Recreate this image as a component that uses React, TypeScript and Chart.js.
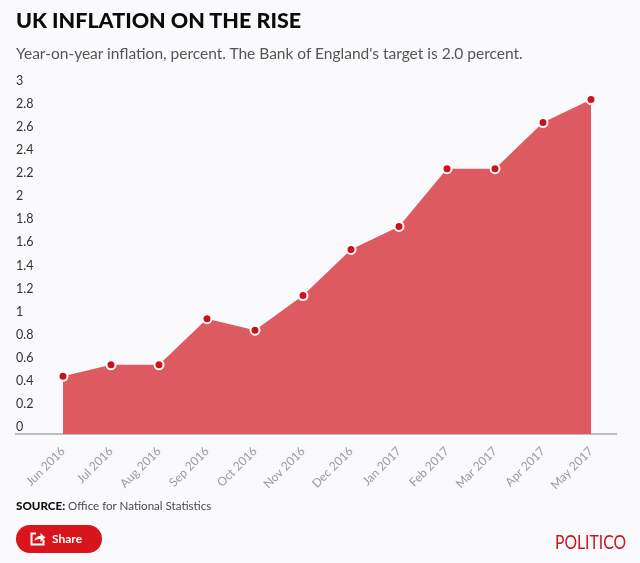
import React, { useEffect, useRef } from "react";
import { Chart, registerables } from "chart.js";

Chart.register(...registerables);

const months = ["Jun 2016", "Jul 2016", "Aug 2016", "Sep 2016", "Oct 2016", "Nov 2016", "Dec 2016", "Jan 2017", "Feb 2017", "Mar 2017", "Apr 2017", "May 2017"];
const inflation = [0.5, 0.6, 0.6, 1.0, 0.9, 1.2, 1.6, 1.8, 2.3, 2.3, 2.7, 2.9];
const font = "Lato, 'Open Sans', sans-serif";

export default function App() {
  const ref = useRef<HTMLCanvasElement>(null);
  useEffect(() => {
    document.body.style.margin = "0";
    document.body.style.background = "#fafafc";
    const chart = new Chart(ref.current!, {
      type: "line",
      data: {
        datasets: [{
          data: inflation.map((y, x) => ({ x, y })),
          fill: "origin",
          backgroundColor: "#dc5a60",
          borderWidth: 0,
          tension: 0,
          clip: false,
          pointRadius: 4.5,
          pointBorderWidth: 2,
          pointBackgroundColor: "#d0111b",
          pointBorderColor: "#ffffff",
        }],
      },
      options: {
        animation: false,
        responsive: false,
        layout: { padding: { left: 16, right: 24, top: 88, bottom: 0 } },
        plugins: { legend: { display: false }, tooltip: { enabled: false } },
        scales: {
          x: {
            type: "linear",
            min: -47 / 48,
            max: 11 + 25 / 48,
            grid: { display: false },
            border: { display: true, color: "#bdbdbd", width: 2 },
            afterBuildTicks: (s: any) => { s.ticks = months.map((_, value) => ({ value })); },
            afterFit: (s: any) => { s.height = 129; s.paddingLeft = 0; s.paddingRight = 0; },
            ticks: {
              autoSkip: false,
              minRotation: 45,
              maxRotation: 45,
              padding: 2,
              color: "#9a9aa0",
              font: { family: font, size: 12 },
              callback: (v: any) => months[v as number],
            },
          },
          y: {
            min: 0,
            max: 3,
            grid: { display: false },
            border: { display: false },
            afterFit: (s: any) => { s.width = 0; s.paddingTop = 0; s.paddingBottom = 0; },
            ticks: {
              stepSize: 0.2,
              mirror: true,
              padding: 0,
              labelOffset: -7,
              color: "#333333",
              font: { family: font, size: 12.5 },
              callback: (v: any) => String(Math.round(Number(v) * 10) / 10),
            },
          },
        },
      },
    } as any);
    return () => chart.destroy();
  }, []);

  const abs = (left: number, top: number, extra: React.CSSProperties = {}): React.CSSProperties => ({
    position: "absolute", left, top, whiteSpace: "nowrap", fontFamily: font, ...extra,
  });

  return (
    <div style={{ position: "relative", width: 640, height: 563, overflow: "hidden", background: "#fafafc" }}>
      <canvas ref={ref} width={640} height={563} style={{ position: "absolute", left: 0, top: 0, display: "block" }} />
      <div style={abs(16, 6, { fontSize: 21.5, lineHeight: "28px", fontWeight: 900, color: "#0b0b0b" })}>UK INFLATION ON THE RISE</div>
      <div style={abs(16, 42, { fontSize: 15.5, lineHeight: "22px", color: "#555555" })}>Year-on-year inflation, percent. The Bank of England's target is 2.0 percent.</div>
      <div style={abs(16, 498, { fontSize: 11.6, lineHeight: "16px", color: "#4a4a50" })}><b style={{ fontWeight: 900, color: "#111" }}>SOURCE:</b> Office for National Statistics</div>
      <div style={abs(16, 525, { width: 86, height: 28, borderRadius: 14, background: "#d8141c", color: "#fff", fontSize: 12, fontWeight: 700, lineHeight: "28px" })}>
        <svg width="16" height="15" viewBox="0 0 16 15" style={{ position: "absolute", left: 14, top: 6 }}>
          <path d="M6 2.5H1.5v11h12V9" fill="none" stroke="#fff" strokeWidth="2" />
          <path d="M4.5 10C5 6.5 7.5 5 10.5 5V2l5 4.5-5 4.5V8C8 8 6 8.5 4.5 10z" fill="#fff" />
        </svg>
        <span style={{ position: "absolute", left: 36 }}>Share</span>
      </div>
      <div style={abs(555, 531, { fontSize: 18.5, lineHeight: "22px", color: "#d0111b", transform: "scaleX(0.85)", transformOrigin: "left center" })}>POLITICO</div>
    </div>
  );
}
